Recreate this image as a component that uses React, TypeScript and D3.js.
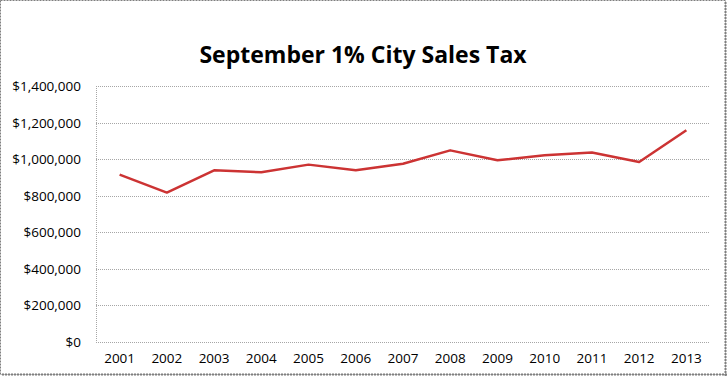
import React from "react";
import * as d3 from "d3";

const years = ["2001","2002","2003","2004","2005","2006","2007","2008","2009","2010","2011","2012","2013"];
const sales = [915000, 817000, 939000, 928000, 970000, 939000, 975000, 1048000, 994000, 1021000, 1036000, 984000, 1158000];
const yTicks = [0, 200000, 400000, 600000, 800000, 1000000, 1200000, 1400000];
const title = "September 1% City Sales Tax";

const W = 727, H = 376;
const M = { left: 96, right: 17, top: 86, bottom: 34 };

export default function App() {
  const x = d3.scaleBand<string>().domain(years).range([M.left, W - M.right]);
  const y = d3.scaleLinear().domain([0, 1400000]).range([H - M.bottom, M.top]);
  const fmt = (v: number) => "$" + d3.format(",")(v);
  const line = d3.line<number>()
    .x((_, i) => (x(years[i]) as number) + x.bandwidth() / 2)
    .y((d) => y(d));
  const font = "'Open Sans', 'Noto Sans', sans-serif";
  return (
    <svg width={W} height={H} style={{ position: "absolute", left: 0, top: 0, display: "block", background: "#fff" }}>
      <rect x={0.5} y={0.5} width={W - 2} height={H - 2} fill="#fff" stroke="#7f7f7f" strokeWidth={1} strokeDasharray="2,1" />
      <line x1={W - 1.5} x2={W - 1.5} y1={2} y2={H} stroke="#7f7f7f" strokeWidth={2} strokeDasharray="2,1" />
      <line x1={2} x2={W} y1={H - 1.5} y2={H - 1.5} stroke="#7f7f7f" strokeWidth={2} strokeDasharray="2,1" />
      <text x={363} y={63} textAnchor="middle" fontFamily={font} fontWeight="bold" fontSize={23} fill="#000">{title}</text>
      {yTicks.map((t) => (
        <g key={t}>
          <line x1={M.left} x2={W - M.right} y1={Math.round(y(t)) + 0.5} y2={Math.round(y(t)) + 0.5} stroke="#a6a6a6" strokeWidth={1} strokeDasharray="1,1" />
          <text x={81} y={y(t) + 5} textAnchor="end" fontFamily={font} fontSize={13.5} fill="#000">{fmt(t)}</text>
        </g>
      ))}
      <line x1={M.left + 0.5} x2={M.left + 0.5} y1={M.top} y2={H - M.bottom} stroke="#a6a6a6" strokeWidth={1} strokeDasharray="1,1" />
      {years.map((yr) => (
        <text key={yr} x={(x(yr) as number) + x.bandwidth() / 2} y={363} textAnchor="middle" fontFamily={font} fontSize={13.5} fill="#000">{yr}</text>
      ))}
      <path d={line(sales) || ""} fill="none" stroke="#CC3333" strokeWidth={2.5} strokeLinejoin="round" />
    </svg>
  );
}
